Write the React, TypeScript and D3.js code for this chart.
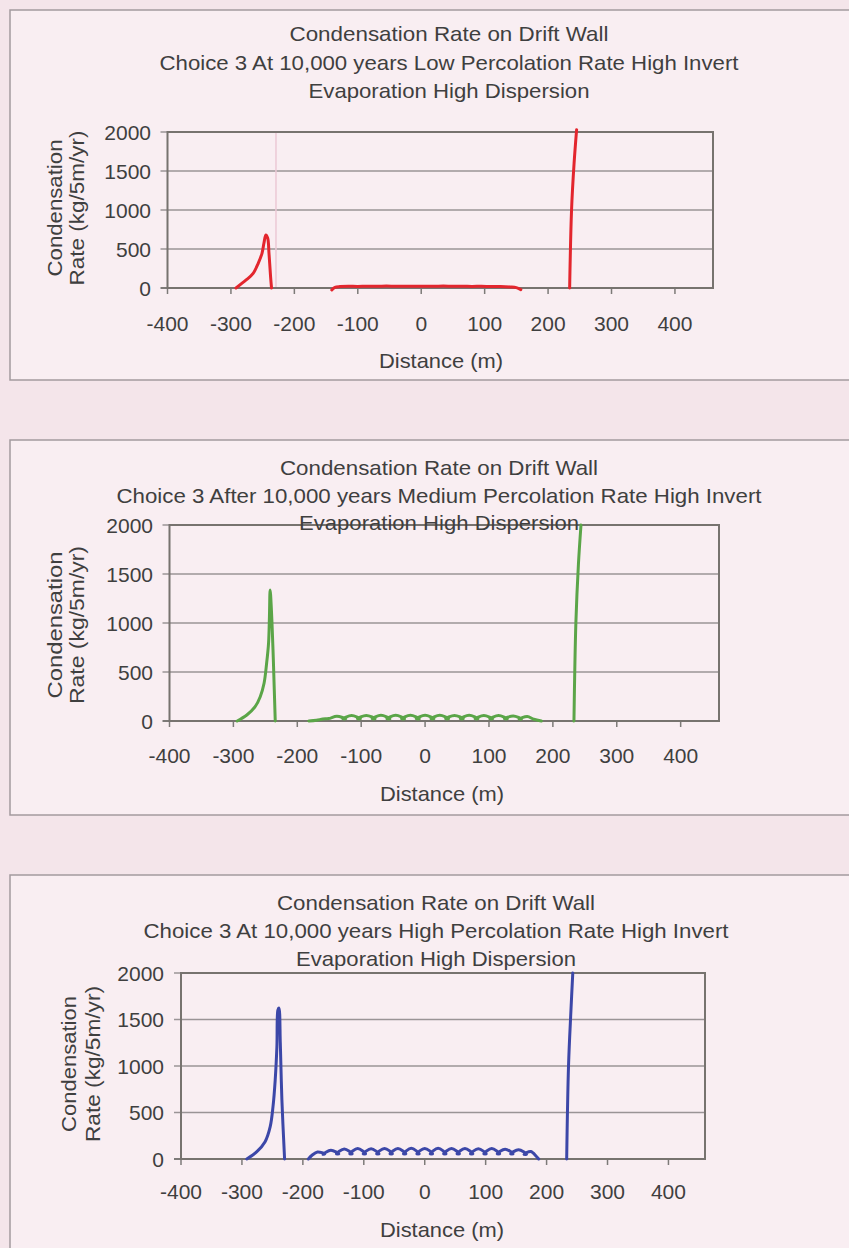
import React from 'react';
import * as d3 from 'd3';

const W = 849;
const H = 1248;
const FONT = '"Liberation Sans", Arial, sans-serif';

const xTicks = [-400, -300, -200, -100, 0, 100, 200, 300, 400];
const yTicks = [0, 500, 1000, 1500, 2000];
const xDomain = [-400, 460];
const yDomain = [0, 2000];

const titleTop = 'Condensation Rate on Drift Wall';
const titleBottom = 'Evaporation High Dispersion';
const subtitles = [
  'Choice 3 At 10,000 years Low Percolation Rate High Invert',
  'Choice 3 After 10,000 years Medium Percolation Rate High Invert',
  'Choice 3 At 10,000 years High Percolation Rate High Invert',
];
const yTitle = ['Condensation', 'Rate  (kg/5m/yr)'];
const xTitle = 'Distance (m)';

// low percolation (red)
const lowPeak = [
  [-292, 0], [-276, 103], [-265, 188], [-257, 316], [-251, 445], [-248, 573],
  [-245, 680], [-242, 637], [-240, 445], [-237.5, 145], [-236, 0],
];
const lowMid = [
  [-141, -25], [-136, 8], [-128, 18], [-115, 22], [-100, 20], [-85, 24], [-70, 21],
  [-55, 25], [-40, 22], [-25, 24], [-10, 21], [5, 24], [20, 22], [35, 25], [50, 21],
  [65, 23], [80, 20], [95, 22], [110, 19], [125, 20], [140, 14], [150, 5], [157, -20],
];
const lowWall = [[234, 0], [237, 1000], [241, 1600], [245, 2030]];
const lowMarkX = -229;

// medium percolation (green)
const medPeak = [
  [-294, 0], [-279, 61], [-266, 146], [-258, 248], [-252, 385], [-248, 589],
  [-245, 793], [-243.6, 1064], [-242.5, 1337], [-240.5, 1133], [-238, 724],
  [-236, 316], [-234.5, 0],
];
const medMid = [
  [-182, 0], [-170, 8], [-160, 20], [-151, 25],
  [-138, 48], [-124, 22], [-129, 22], [-115, 55], [-101, 22],
  [-106, 22], [-92, 57], [-78, 22], [-83, 22], [-69, 58], [-55, 22],
  [-60, 22], [-46, 58], [-32, 22], [-37, 22], [-23, 58], [-9, 22],
  [-14, 22], [0, 58], [14, 22], [9, 22], [23, 58], [37, 22],
  [32, 22], [46, 57], [60, 22], [55, 22], [69, 58], [83, 22],
  [78, 22], [92, 56], [106, 22], [101, 22], [115, 55], [129, 22],
  [124, 22], [138, 52], [151, 20], [147, 20], [160, 45], [170, 18], [182, 0],
];
const medWall = [[233, 0], [236, 1000], [240, 1600], [244, 2000]];

// high percolation (blue)
const highPeak = [
  [-292, 0], [-275.5, 79], [-262, 186], [-253.6, 348], [-249, 563], [-245.4, 849],
  [-242.6, 1208], [-241, 1602], [-239.3, 1624], [-237, 1247], [-234.4, 634], [-230, 0],
];
const highMid = [
  [-191, 0], [-185, 40], [-176, 75], [-164, 55],
  [-167, 50], [-154, 95], [-141, 55], [-145, 55], [-132, 108], [-119, 55],
  [-123, 55], [-110, 112], [-97, 55], [-101, 55], [-88, 110], [-75, 55],
  [-79, 55], [-66, 114], [-53, 55], [-57, 55], [-44, 112], [-31, 55],
  [-35, 55], [-22, 115], [-9, 55], [-13, 55], [0, 114], [13, 55],
  [9, 55], [22, 116], [35, 55], [31, 55], [44, 112], [57, 55],
  [53, 55], [66, 113], [79, 55], [75, 55], [88, 110], [101, 55],
  [97, 55], [110, 112], [123, 55], [119, 55], [132, 106], [145, 55],
  [141, 55], [154, 100], [167, 50], [163, 50], [174, 80], [183, 30], [187, 0],
];
const highWall = [[233, 0], [236, 1000], [240, 1600], [243, 2000]];

const panels = [
  {
    color: '#e3262e', series: [lowPeak, lowMid, lowWall], mark: lowMarkX,
    frame: [10, 380], plot: { l: 167.5, r: 713, t: 132, b: 288 },
    titleY: [33, 62, 90], titleX: 449, titleW: [319, 579, 281],
    yTitleX: [54, 76], yTitleY: 208, yTitleW: [137, 155], yLabelR: 151,
    xLabelY: 323, xTitleY: 360, xTitleX: 441,
  },
  {
    color: '#5ba548', series: [medPeak, medMid, medWall], mark: null,
    frame: [440, 815], plot: { l: 169.5, r: 719, t: 525, b: 721 },
    titleY: [467, 495, 522], titleX: 439, titleW: [318, 645, 280],
    yTitleX: [54, 76], yTitleY: 625, yTitleW: [147, 158], yLabelR: 153,
    xLabelY: 755, xTitleY: 793, xTitleX: 442,
  },
  {
    color: '#3c47a8', series: [highPeak, highMid, highWall], mark: null,
    frame: [875, 1262], plot: { l: 181, r: 705, t: 973, b: 1159 },
    titleY: [902, 930, 958], titleX: 436, titleW: [318, 585, 280],
    yTitleX: [68, 92], yTitleY: 1064, yTitleW: [136, 156], yLabelR: 164,
    xLabelY: 1191, xTitleY: 1229, xTitleX: 442,
  },
];

function Panel({ p, i }: { p: any; i: number }) {
  const x = d3.scaleLinear().domain(xDomain).range([p.plot.l, p.plot.r]);
  const y = d3.scaleLinear().domain(yDomain).range([p.plot.b, p.plot.t]);
  const line = d3
    .line<number[]>()
    .x(d => x(d[0]))
    .y(d => y(d[1]))
    .curve(d3.curveCatmullRom.alpha(0.5));
  const titles = [titleTop, subtitles[i], titleBottom];
  const ink = '#3f3f3f';

  return (
    <g>
      <rect x={10} y={p.frame[0]} width={860} height={p.frame[1] - p.frame[0]}
        fill="#f9eef2" stroke="#a39a9e" strokeWidth={1.5} />
      {yTicks.map(t => (
        <g key={t}>
          <line x1={p.plot.l - 7} x2={p.plot.r} y1={y(t)} y2={y(t)}
            stroke={t === 0 ? '#7d7a78' : '#9a9496'} strokeWidth={t === 0 ? 2 : 1.5} />
          <text x={p.yLabelR} y={y(t)} textAnchor="end" dominantBaseline="central"
            fontSize={21} fill={ink}>{t}</text>
        </g>
      ))}
      {xTicks.map(t => (
        <g key={t}>
          <line x1={x(t)} x2={x(t)} y1={p.plot.b} y2={p.plot.b + 6}
            stroke="#7d7a78" strokeWidth={1.5} />
          <text x={x(t)} y={p.xLabelY} textAnchor="middle" dominantBaseline="central"
            fontSize={21} fill={ink}>{t}</text>
        </g>
      ))}
      {p.mark !== null && (
        <line x1={x(p.mark)} x2={x(p.mark)} y1={p.plot.t} y2={p.plot.b}
          stroke="#ecc9d6" strokeWidth={1.5} />
      )}
      <rect x={p.plot.l} y={p.plot.t} width={p.plot.r - p.plot.l} height={p.plot.b - p.plot.t}
        fill="none" stroke="#77736f" strokeWidth={2} />
      {p.series.map((s: number[][], k: number) => (
        <path key={k} d={line(s) || ''} fill="none" stroke={p.color} strokeWidth={3}
          strokeLinejoin="round" strokeLinecap="round" />
      ))}
      {titles.map((t, k) => (
        <text key={k} x={p.titleX} y={p.titleY[k]} textAnchor="middle" dominantBaseline="central"
          fontSize={21} fill={ink} textLength={p.titleW[k]} lengthAdjust="spacingAndGlyphs">{t}</text>
      ))}
      {yTitle.map((t, k) => (
        <text key={k} transform={`translate(${p.yTitleX[k]},${p.yTitleY}) rotate(-90)`}
          textAnchor="middle" dominantBaseline="central" fontSize={21} fill={ink}
          textLength={p.yTitleW[k]} lengthAdjust="spacingAndGlyphs">{t}</text>
      ))}
      <text x={p.xTitleX} y={p.xTitleY} textAnchor="middle" dominantBaseline="central"
        fontSize={21} fill={ink} textLength={124} lengthAdjust="spacingAndGlyphs">{xTitle}</text>
    </g>
  );
}

export default function App() {
  return (
    <svg width={W} height={H} fontFamily={FONT}
      style={{ position: 'absolute', left: 0, top: 0, display: 'block', background: '#f4e5ea' }}>
      <rect width={W} height={H} fill="#f4e5ea" />
      {panels.map((p, i) => <Panel key={i} p={p} i={i} />)}
    </svg>
  );
}
